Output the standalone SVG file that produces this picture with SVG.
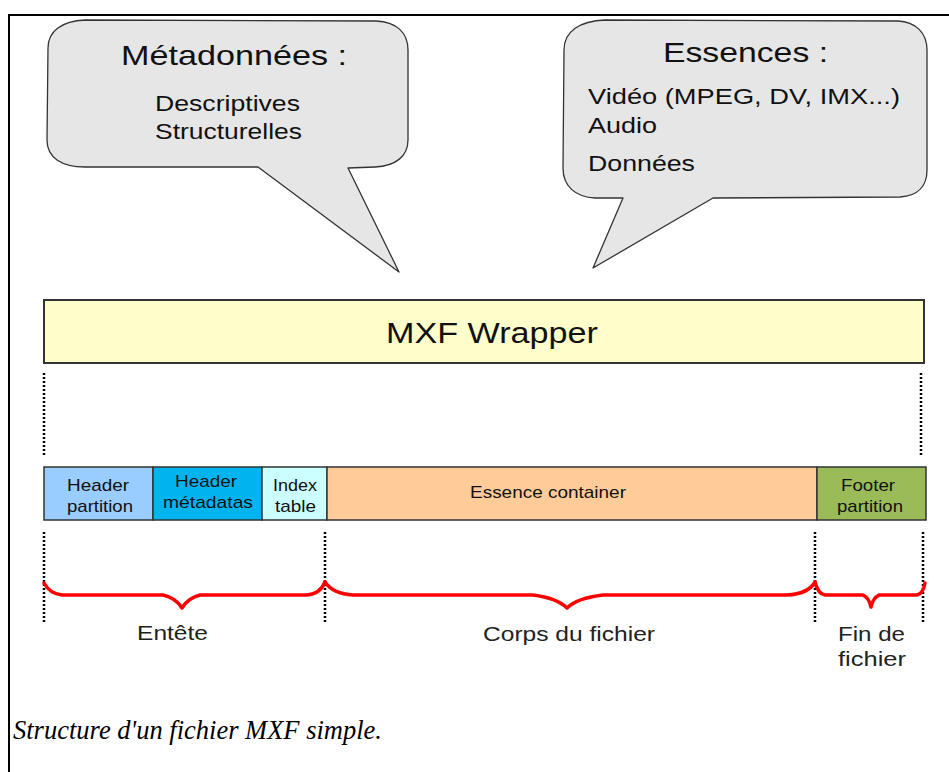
<svg xmlns="http://www.w3.org/2000/svg" width="949" height="772" viewBox="0 0 949 772">
<style>
.bubble{fill:#e6e6e6;stroke:#333;stroke-width:1.3;stroke-linejoin:round}
.t{font-family:"Liberation Sans",Arial,sans-serif;fill:#111}
.seg{stroke:#333;stroke-width:1.5}
.dot{stroke:#000;stroke-width:2.5;stroke-dasharray:2 2;fill:none}
.brace{stroke:#ff0000;stroke-width:3.5;fill:none;stroke-linejoin:round;stroke-linecap:round}
.small{font-size:17px}
.lbl{font-size:21px;fill:#222}
</style>
<rect width="949" height="772" fill="#fff"/>
<g id="frame">
<line x1="8" y1="15" x2="949" y2="15" stroke="#000" stroke-width="2"/>
<line x1="9" y1="14" x2="9" y2="772" stroke="#000" stroke-width="2"/>
</g>
<g id="bubble-metadonnees">
<path class="bubble" d="M258,167 L399,272 L348,168 L375,167 C396,166 408,156 408,140 L408,50 C408,32 396,22 376,21 L85,20 C62,21 48,31 48,48 L47,140 C47,158 62,167 85,167 Z"/>
<text class="t" x="121" y="65" font-size="28" textLength="226" lengthAdjust="spacingAndGlyphs">Métadonnées :</text>
<text class="t" x="155" y="111" font-size="22" textLength="145" lengthAdjust="spacingAndGlyphs">Descriptives</text>
<text class="t" x="155" y="139" font-size="22" textLength="147" lengthAdjust="spacingAndGlyphs">Structurelles</text>
</g>
<g id="bubble-essences">
<path class="bubble" d="M623,198 L593,268 L713,198 L900,197 C918,196 927,186 927,170 L927,50 C927,32 915,22 898,21 L605,20 C580,21 564,31 564,50 L563,168 C563,186 575,197 595,198 Z"/>
<text class="t" x="663" y="62" font-size="28" textLength="165" lengthAdjust="spacingAndGlyphs">Essences :</text>
<text class="t" x="588" y="104" font-size="22" textLength="312" lengthAdjust="spacingAndGlyphs">Vidéo (MPEG, DV, IMX...)</text>
<text class="t" x="588" y="133" font-size="22" textLength="69" lengthAdjust="spacingAndGlyphs">Audio</text>
<text class="t" x="588" y="171" font-size="22" textLength="107" lengthAdjust="spacingAndGlyphs">Données</text>
</g>
<g id="wrapper">
<rect x="44" y="300" width="880" height="63" fill="#ffffcc" stroke="#333" stroke-width="2"/>
<text class="t" x="386" y="343" font-size="30" textLength="212" lengthAdjust="spacingAndGlyphs">MXF Wrapper</text>
</g>
<g id="header-partition">
<rect class="seg" x="44" y="467" width="109" height="53" fill="#99ccff"/>
<text class="t small" x="67" y="491" textLength="62" lengthAdjust="spacingAndGlyphs">Header</text>
<text class="t small" x="67" y="512" textLength="66" lengthAdjust="spacingAndGlyphs">partition</text>
</g>
<g id="header-metadatas">
<rect class="seg" x="153" y="467" width="109" height="53" fill="#00b4f0"/>
<text class="t small" x="175" y="487" textLength="62" lengthAdjust="spacingAndGlyphs">Header</text>
<text class="t small" x="163" y="508" textLength="90" lengthAdjust="spacingAndGlyphs">métadatas</text>
</g>
<g id="index-table">
<rect class="seg" x="262" y="467" width="65" height="53" fill="#ccffff"/>
<text class="t small" x="273" y="491" textLength="44" lengthAdjust="spacingAndGlyphs">Index</text>
<text class="t small" x="275" y="512" textLength="41" lengthAdjust="spacingAndGlyphs">table</text>
</g>
<g id="essence-container">
<rect class="seg" x="327" y="467" width="490" height="53" fill="#ffcc99"/>
<text class="t small" x="470" y="498" textLength="156" lengthAdjust="spacingAndGlyphs">Essence container</text>
</g>
<g id="footer-partition">
<rect class="seg" x="817" y="467" width="109" height="53" fill="#9bbb59"/>
<text class="t small" x="841" y="491" textLength="54" lengthAdjust="spacingAndGlyphs">Footer</text>
<text class="t small" x="837" y="512" textLength="66" lengthAdjust="spacingAndGlyphs">partition</text>
</g>
<g id="connectors">
<line class="dot" x1="44" y1="373" x2="44" y2="456"/>
<line class="dot" x1="921" y1="373" x2="921" y2="456"/>
<line class="dot" x1="44" y1="532" x2="44" y2="622"/>
<line class="dot" x1="325" y1="532" x2="325" y2="622"/>
<line class="dot" x1="815" y1="532" x2="815" y2="622"/>
<line class="dot" x1="923" y1="532" x2="923" y2="622"/>
<path class="brace" d="M44,583 Q50,594 62,595 L163,595 Q176,598 182,608 Q188,598 200,595 L307,595 Q320,594 325,582"/>
<path class="brace" d="M325,582 Q333,594 353,595 L533,595 Q557,598 567,608 Q577,598 603,595 L787,595 Q808,594 815,582"/>
<path class="brace" d="M815,582 Q818,594 825,595 L863,595 Q869,598 871,607 Q873,598 879,595 L917,595 Q923,594 925,583"/>
</g>
<g id="labels">
<text class="t lbl" x="137" y="640" textLength="71" lengthAdjust="spacingAndGlyphs">Entête</text>
<text class="t lbl" x="483" y="641" textLength="172" lengthAdjust="spacingAndGlyphs">Corps du fichier</text>
<text class="t lbl" x="838" y="641" textLength="67" lengthAdjust="spacingAndGlyphs">Fin de</text>
<text class="t lbl" x="838" y="666" textLength="68" lengthAdjust="spacingAndGlyphs">fichier</text>
</g>
<g id="caption">
<text x="13" y="739" font-family="'Liberation Serif','Times New Roman',serif" font-style="italic" font-size="26.5" fill="#000">Structure d'un fichier MXF simple.</text>
</g>
</svg>
